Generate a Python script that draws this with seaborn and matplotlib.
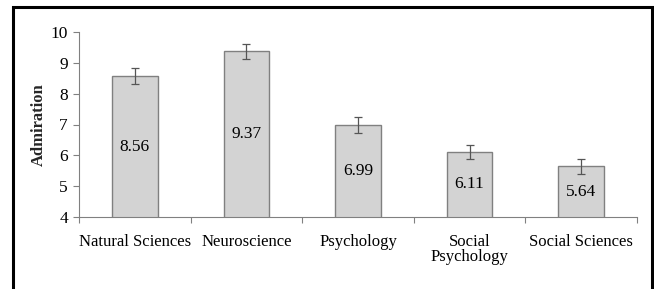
import matplotlib
matplotlib.use("Agg")
import matplotlib.pyplot as plt
import seaborn as sns
import pandas as pd
from matplotlib.patches import Rectangle

# data
categories = ["Natural Sciences", "Neuroscience", "Psychology", "Social\nPsychology", "Social Sciences"]
admiration = [8.56, 9.37, 6.99, 6.11, 5.64]
errors = [0.26, 0.25, 0.25, 0.24, 0.24]
yticks = [4, 5, 6, 7, 8, 9, 10]

sns.set_theme(style="white")
plt.rcParams['font.family'] = ['Liberation Serif', 'DejaVu Serif']
plt.rcParams['font.size'] = 12

df = pd.DataFrame({"field": categories, "admiration": admiration})

fig = plt.figure(figsize=(6.54, 2.89), dpi=100)
ax = fig.add_axes([79 / 654, 1 - 217 / 289, (637 - 79) / 654, (217 - 32) / 289])

sns.barplot(data=df, x="field", y="admiration", ax=ax, color="#d3d3d3",
            saturation=1, width=0.41, edgecolor="#808080", linewidth=1.0)
ax.errorbar(range(len(categories)), admiration, yerr=errors, fmt="none",
            ecolor="#555555", elinewidth=0.9, capsize=2.8, capthick=0.9)

# value labels in the middle of each bar
for i, v in enumerate(admiration):
    ax.text(i, (v + yticks[0]) / 2, f"{v:.2f}", ha="center", va="center",
            fontsize=12.5, color="black")

ax.set_ylim(yticks[0], yticks[-1])
ax.set_yticks(yticks)
ax.set_xlim(-0.5, len(categories) - 0.5)
ax.set_xticks(range(len(categories)))
ax.set_xticklabels(categories, linespacing=0.95)
ax.set_xticks([i - 0.5 for i in range(len(categories) + 1)], minor=True)
ax.tick_params(axis="x", which="major", length=0, pad=12, labelsize=12, labelcolor="black")
ax.tick_params(axis="x", which="minor", length=4, width=0.8, color="#808080", direction="out", bottom=True)
ax.tick_params(axis="y", length=4.5, width=0.8, color="#808080", direction="out", left=True,
               labelsize=12.5, labelcolor="black", pad=3.5)

ax.set_xlabel("")
ax.set_ylabel("Admiration", fontweight="bold", fontsize=12)
ax.yaxis.set_label_coords(-0.058, 0.5)

for s in ["top", "right"]:
    ax.spines[s].set_visible(False)
for s in ["left", "bottom"]:
    ax.spines[s].set_color("#808080")
    ax.spines[s].set_linewidth(0.8)

# outer frame around the figure (open at the bottom)
fig.patches.append(Rectangle((13 / 654, -0.1), (652 - 13) / 654, 1.1 - 7 / 289,
                             transform=fig.transFigure, fill=False,
                             edgecolor="black", linewidth=2.2))

fig.savefig("out.png", dpi=100)
